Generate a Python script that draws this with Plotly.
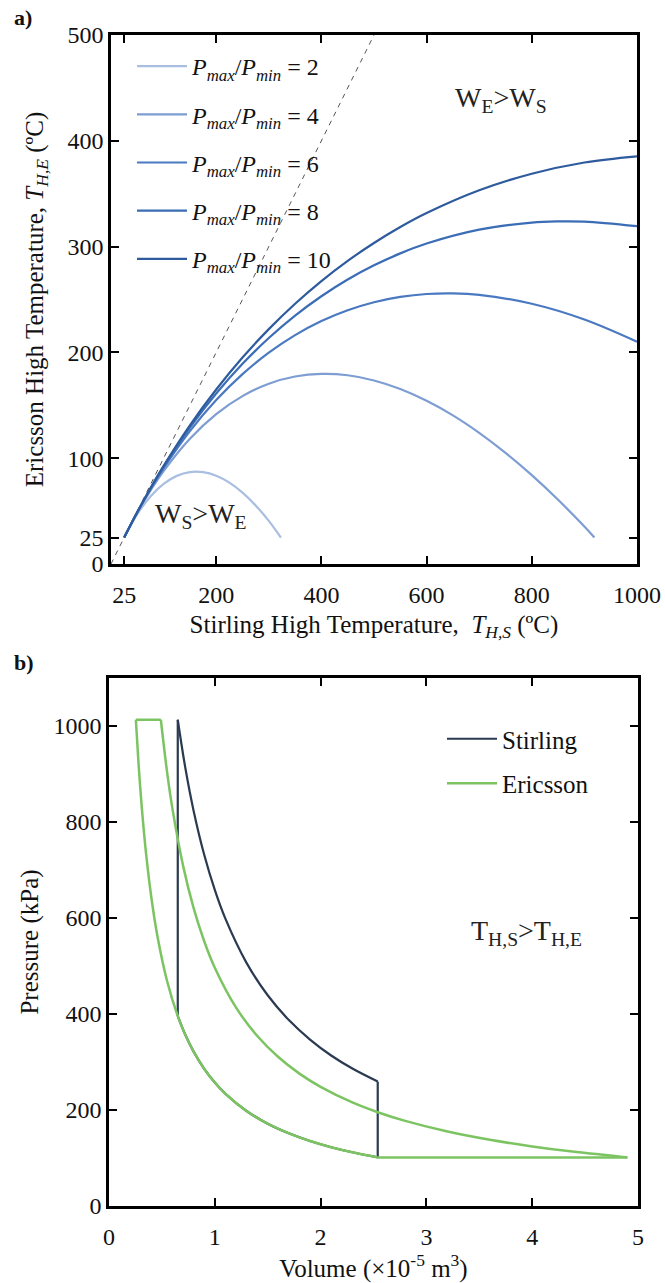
import plotly.graph_objects as go

# ---------------- Panel a) data: Ericsson vs Stirling high temperature ----------------
rp2_x = [25, 50, 75, 100, 125, 150, 175, 200, 225, 250, 275, 300, 323]
rp2_y = [25, 47.1, 63.8, 75.7, 83.3, 86.9, 86.8, 83.4, 76.9, 67.5, 55.4, 40.7, 25]

rp4_x = [25, 50, 75, 100, 150, 200, 250, 300, 350, 400, 450, 500, 550, 600, 650, 700, 750, 800, 850, 900, 919]
rp4_y = [25, 48.6, 69.4, 87.9, 118.4, 141.7, 158.7, 170.4, 177.2, 179.7, 178.4, 173.5, 165.4, 154.3, 140.5,
         124.0, 105.1, 84.0, 60.7, 35.4, 25]

rp6_x = [25, 50, 75, 100, 150, 200, 250, 300, 350, 400, 450, 500, 550, 600, 650, 700, 800, 900, 1000]
rp6_y = [25, 48.9, 70.7, 90.6, 125.6, 154.9, 179.4, 199.7, 216.3, 229.6, 239.8, 247.4, 252.4, 255.2, 255.8,
         254.4, 246.0, 231.1, 210.1]

rp8_x = [25, 50, 75, 100, 150, 200, 250, 300, 350, 400, 450, 500, 550, 600, 700, 800, 850, 900, 1000]
rp8_y = [25, 49.0, 71.3, 91.9, 129.0, 161.1, 189.2, 213.6, 234.8, 253.1, 268.9, 282.3, 293.6, 302.9, 316.0,
         322.7, 323.8, 323.6, 319.3]

rp10_x = [25, 50, 75, 100, 150, 200, 250, 300, 350, 400, 450, 500, 550, 600, 700, 800, 900, 1000]
rp10_y = [25, 49.1, 71.6, 92.7, 131.0, 164.9, 195.1, 222.0, 246.0, 267.4, 286.5, 303.4, 318.5, 331.7, 353.2,
          368.9, 379.5, 385.3]

ratio_labels = ["2", "4", "6", "8", "10"]
ratio_colors = ["#a9bee0", "#7d9dd3", "#4a79c1", "#3b6db6", "#2e5b9d"]

diag_x = [0, 500]
diag_y = [0, 500]

a_xticks = [25, 200, 400, 600, 800, 1000]
a_yticks = [0, 25, 100, 200, 300, 400, 500]

# ---------------- Panel b) data: P-V diagrams ----------------
# Stirling cycle segments
st_comp_v = [2.54, 2.3, 2.1, 1.9, 1.7, 1.5, 1.3, 1.1, 1.0, 0.9, 0.8, 0.72, 0.65]
st_comp_p = [101.3, 111.9, 122.5, 135.4, 151.4, 171.5, 197.9, 233.9, 257.3, 285.9, 321.6, 357.4, 395.8]
st_heat_v = [0.65, 0.65]
st_heat_p = [395.8, 1013]
st_exp_v = [0.65, 0.72, 0.8, 0.9, 1.0, 1.1, 1.3, 1.5, 1.7, 1.9, 2.1, 2.3, 2.54]
st_exp_p = [1013, 914.5, 823.1, 731.6, 658.5, 598.6, 506.5, 439.0, 387.3, 346.6, 313.5, 286.3, 259.2]
st_cool_v = [2.54, 2.54]
st_cool_p = [259.2, 101.3]

# Ericsson cycle segments
er_comp_v = [2.54, 2.3, 2.1, 1.9, 1.7, 1.5, 1.3, 1.1, 1.0, 0.9, 0.8, 0.72, 0.65, 0.55, 0.46, 0.4, 0.35,
             0.31, 0.28, 0.254]
er_comp_p = [101.3, 111.9, 122.5, 135.4, 151.4, 171.5, 197.9, 233.9, 257.3, 285.9, 321.6, 357.4, 395.8,
             467.8, 559.3, 643.3, 735.1, 830.0, 918.9, 1013]
er_heat_v = [0.254, 0.49]
er_heat_p = [1013, 1013]
er_exp_v = [0.49, 0.55, 0.6, 0.7, 0.8, 0.9, 1.0, 1.2, 1.4, 1.6, 1.8, 2.0, 2.3, 2.54, 2.8, 3.2, 3.6, 4.0,
            4.4, 4.9]
er_exp_p = [1013, 902.5, 827.3, 709.1, 620.5, 551.6, 496.4, 413.7, 354.6, 310.3, 275.8, 248.2, 215.8,
            195.4, 177.3, 155.1, 137.9, 124.1, 112.8, 101.3]
er_cool_v = [4.9, 2.54]
er_cool_p = [101.3, 101.3]

b_xticks = [0, 1, 2, 3, 4, 5]
b_yticks = [0, 200, 400, 600, 800, 1000]

STIRLING_COLOR = "#2a3a50"
ERICSSON_COLOR = "#7cc462"

FONT = "'Liberation Serif', 'Times New Roman', Times, serif"

fig = go.Figure()

# ---- panel a traces
fig.add_trace(go.Scatter(x=diag_x, y=diag_y, mode="lines",
                         line=dict(color="#555555", width=1, dash="5px,5px"),
                         showlegend=False, hoverinfo="skip", xaxis="x", yaxis="y"))

series = [(rp2_x, rp2_y), (rp4_x, rp4_y), (rp6_x, rp6_y), (rp8_x, rp8_y), (rp10_x, rp10_y)]
for (xs, ys), lab, col in zip(series, ratio_labels, ratio_colors):
    fig.add_trace(go.Scatter(
        x=xs, y=ys, mode="lines", line=dict(color=col, width=2.2, shape="spline", smoothing=1.0),
        name="<i>P</i><sub><i>max</i></sub>/<i>P</i><sub><i>min</i></sub> = " + lab,
        legend="legend", legendgroup="r" + lab, xaxis="x", yaxis="y"))

# ---- panel b traces
def seg(v, p, color, width, name=None, show=False, curved=False, group=None):
    fig.add_trace(go.Scatter(
        x=v, y=p, mode="lines",
        line=dict(color=color, width=width, shape="spline" if curved else "linear", smoothing=1.0),
        name=name, showlegend=show, legend="legend2", legendgroup=group,
        xaxis="x2", yaxis="y2"))

seg(st_comp_v, st_comp_p, STIRLING_COLOR, 2.2, "Stirling", True, True, "st")
seg(st_heat_v, st_heat_p, STIRLING_COLOR, 2.2, group="st")
seg(st_exp_v, st_exp_p, STIRLING_COLOR, 2.2, curved=True, group="st")
seg(st_cool_v, st_cool_p, STIRLING_COLOR, 2.2, group="st")

seg(er_comp_v, er_comp_p, ERICSSON_COLOR, 2.5, "Ericsson", True, True, "er")
seg(er_heat_v, er_heat_p, ERICSSON_COLOR, 2.5, group="er")
seg(er_exp_v, er_exp_p, ERICSSON_COLOR, 2.5, curved=True, group="er")
seg(er_cool_v, er_cool_p, ERICSSON_COLOR, 2.5, group="er")

axis_common = dict(showline=True, linewidth=2.5, linecolor="black", mirror="ticks",
                   ticks="inside", ticklen=8, tickwidth=2, tickcolor="black",
                   showgrid=False, zeroline=False, automargin=False,
                   tickfont=dict(family=FONT, size=24, color="#111"))

W, H = 665, 1283
TITLE_FONT = dict(family=FONT, size=25, color="#111")

fig.update_layout(
    width=W, height=H,
    margin=dict(l=0, r=0, t=0, b=0, autoexpand=False),
    paper_bgcolor="white", plot_bgcolor="white",
    font=dict(family=FONT, size=22, color="#111"),
    xaxis=dict(domain=[111 / W, 637 / W], range=[0, 1000], tickvals=a_xticks, anchor="y",
               ticklabelstandoff=7,
               title=dict(text="Stirling High Temperature,  <i>T</i><sub><i>H,S</i></sub> (ºC)",
                          font=TITLE_FONT, standoff=9),
               **axis_common),
    yaxis=dict(domain=[1 - 564 / H, 1 - 35 / H], range=[0, 500], tickvals=a_yticks, anchor="x",
               title=dict(text="Ericsson High Temperature, <i>T</i><sub><i>H,E</i></sub> (ºC)",
                          font=TITLE_FONT, standoff=17),
               **axis_common),
    xaxis2=dict(domain=[109 / W, 638 / W], range=[0, 5], tickvals=b_xticks, anchor="y2",
                ticklabelstandoff=7,
                title=dict(text="Volume (×10<sup>-5</sup> m<sup>3</sup>)", font=TITLE_FONT, standoff=11),
                **axis_common),
    yaxis2=dict(domain=[1 - 1206 / H, 1 - 678 / H], range=[0, 1100], tickvals=b_yticks, anchor="x2",
                title=dict(text="Pressure (kPa)", font=TITLE_FONT, standoff=8),
                **axis_common),
    legend=dict(x=132 / W, y=1 - 44 / H, xanchor="left", yanchor="top", bgcolor="rgba(0,0,0,0)",
                font=dict(family=FONT, size=24, color="#111"), tracegroupgap=14,
                traceorder="grouped", itemwidth=50),
    legend2=dict(x=442 / W, y=1 - 716 / H, xanchor="left", yanchor="top", bgcolor="rgba(0,0,0,0)",
                 font=dict(family=FONT, size=25, color="#111"), tracegroupgap=9,
                 traceorder="grouped", itemwidth=50),
    annotations=[
        dict(text="<b>a)</b>", xref="paper", yref="paper", x=12 / W, y=1 - 18 / H, showarrow=False,
             xanchor="left", yanchor="middle", font=dict(family=FONT, size=22, color="#111")),
        dict(text="<b>b)</b>", xref="paper", yref="paper", x=12 / W, y=1 - 663 / H, showarrow=False,
             xanchor="left", yanchor="middle", font=dict(family=FONT, size=22, color="#111")),
        dict(text="W<sub>E</sub>>W<sub>S</sub>", xref="x", yref="y", x=741, y=439, showarrow=False,
             xanchor="center", yanchor="middle", font=dict(family=FONT, size=28, color="#222")),
        dict(text="W<sub>S</sub>>W<sub>E</sub>", xref="x", yref="y", x=171, y=46, showarrow=False,
             xanchor="center", yanchor="middle", font=dict(family=FONT, size=28, color="#222")),
        dict(text="T<sub>H,S</sub>>T<sub>H,E</sub>", xref="x2", yref="y2", x=3.95, y=570, showarrow=False,
             xanchor="center", yanchor="middle", font=dict(family=FONT, size=28, color="#222")),
    ],
)

fig.write_html("out.html", config={"displayModeBar": False},
               post_script="document.body.style.margin='0';document.body.style.overflow='hidden';")
